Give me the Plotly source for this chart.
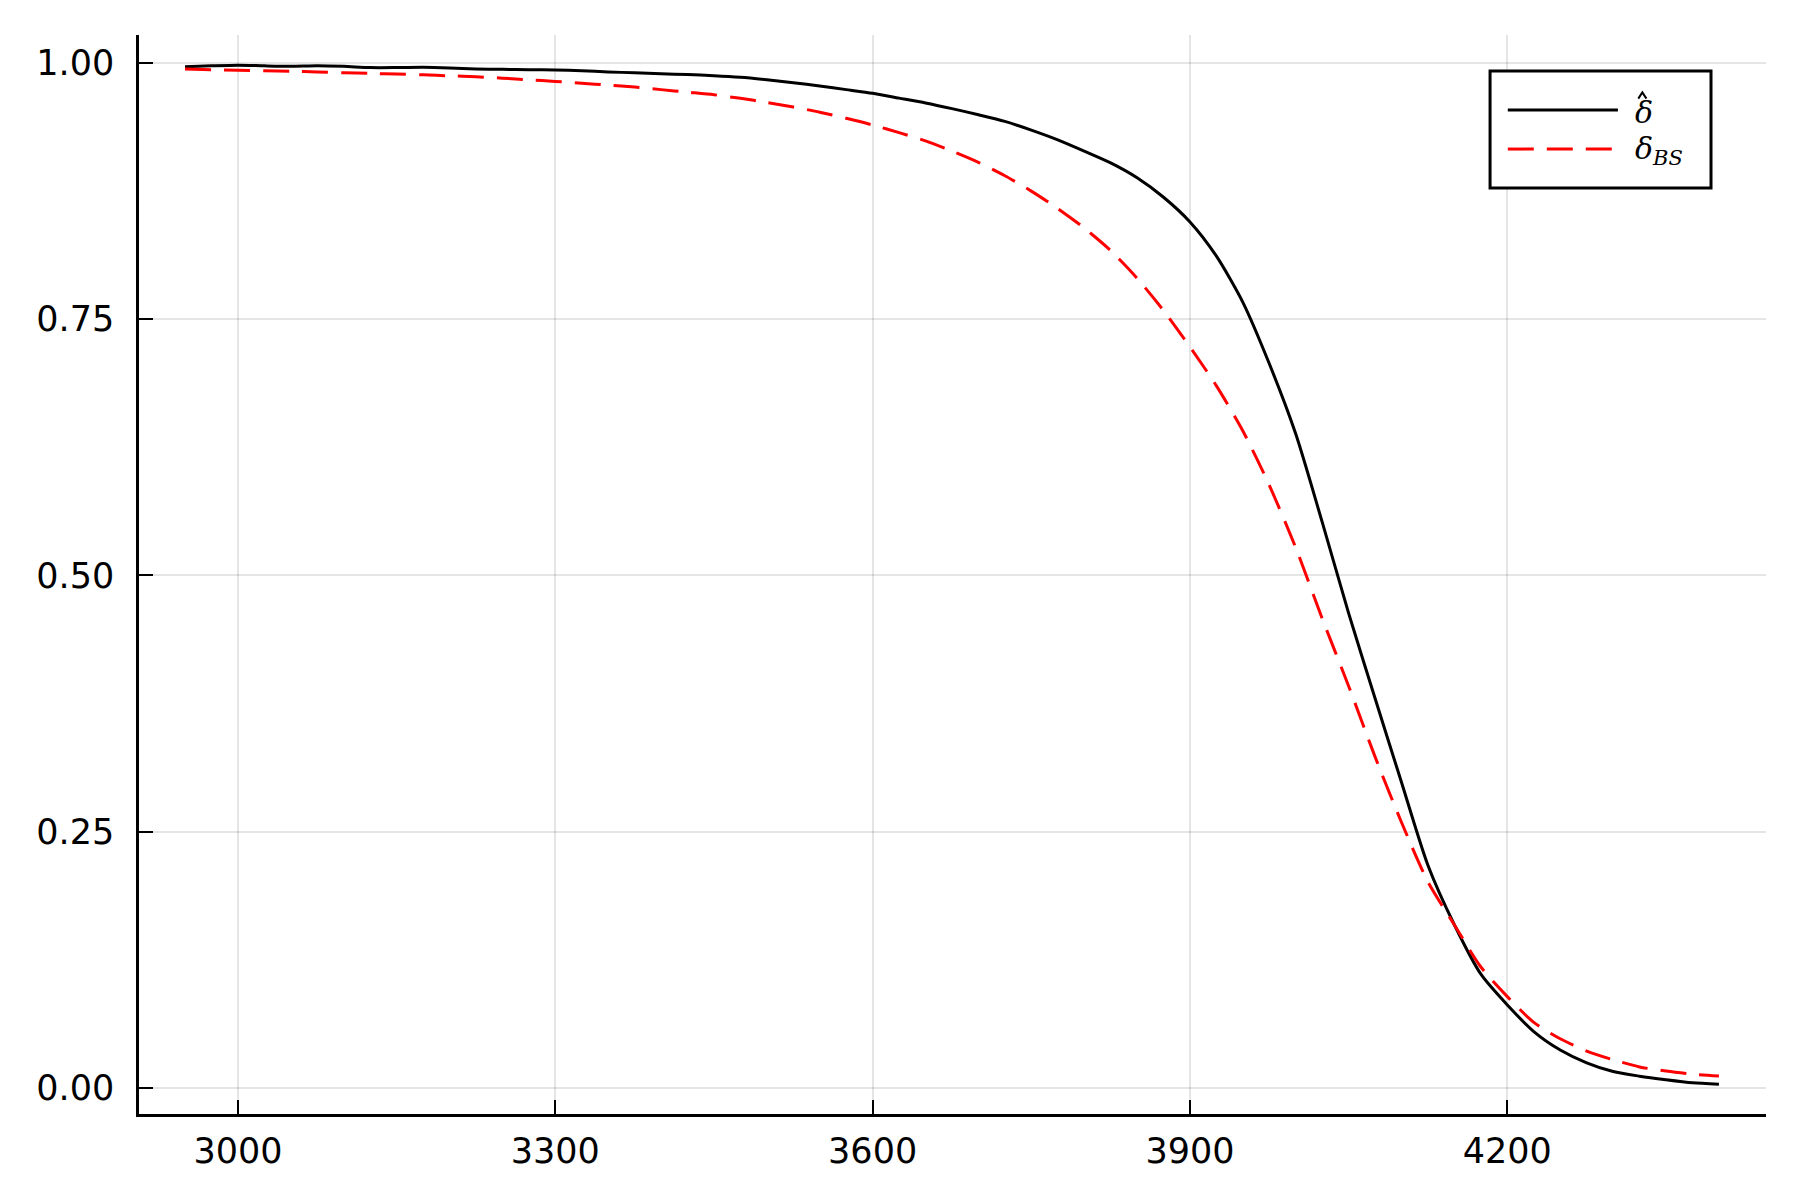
import plotly.graph_objects as go

# strike grid shared by both curves
strikes = [
    2950, 2975, 3000, 3025, 3050, 3075, 3100, 3125, 3150, 3175,
    3200, 3225, 3250, 3275, 3300, 3325, 3350, 3375, 3400, 3425,
    3450, 3475, 3500, 3525, 3550, 3575, 3600, 3625, 3650, 3675,
    3700, 3725, 3750, 3775, 3800, 3825, 3850, 3875, 3900, 3925,
    3950, 3975, 4000, 4025, 4050, 4075, 4100, 4125, 4150, 4175,
    4200, 4225, 4250, 4275, 4300, 4325, 4350, 4375, 4400,
]

# estimated delta (solid black)
delta_hat = [
    0.9964, 0.9972, 0.9978, 0.9972, 0.9968, 0.9973, 0.9967, 0.9955, 0.9955, 0.9958,
    0.9952, 0.9942, 0.9938, 0.9935, 0.9932, 0.9925, 0.9912, 0.9905, 0.9895, 0.9887,
    0.9876, 0.9860, 0.9836, 0.9808, 0.9775, 0.9740, 0.9704, 0.9657, 0.9610, 0.9555,
    0.9495, 0.9430, 0.9345, 0.9250, 0.9140, 0.9025, 0.8880, 0.8690, 0.8449, 0.8115,
    0.7665, 0.7065, 0.6380, 0.5520, 0.4630, 0.3800, 0.2980, 0.2170, 0.1590, 0.1110,
    0.0810, 0.0550, 0.0370, 0.0245, 0.0160, 0.0115, 0.0080, 0.0050, 0.0036,
]

# Black-Scholes delta (dashed red)
delta_bs = [
    0.9941, 0.9935, 0.9930, 0.9925, 0.9920, 0.9912, 0.9905, 0.9898, 0.9892, 0.9884,
    0.9875, 0.9865, 0.9852, 0.9836, 0.9820, 0.9803, 0.9784, 0.9765, 0.9740, 0.9715,
    0.9690, 0.9655, 0.9615, 0.9570, 0.9520, 0.9460, 0.9395, 0.9320, 0.9240, 0.9140,
    0.9030, 0.8900, 0.8750, 0.8580, 0.8390, 0.8170, 0.7900, 0.7585, 0.7229, 0.6850,
    0.6410, 0.5880, 0.5270, 0.4580, 0.3920, 0.3230, 0.2590, 0.2010, 0.1590, 0.1180,
    0.0891, 0.0640, 0.0480, 0.0360, 0.0275, 0.0205, 0.0165, 0.0135, 0.0117,
]

x_ticks = [3000, 3300, 3600, 3900, 4200]
y_ticks = [0.0, 0.25, 0.5, 0.75, 1.0]

DASH = "26px,13px"

fig = go.Figure()
fig.add_trace(go.Scatter(x=strikes, y=delta_hat, mode="lines",
                         line={"color": "black", "width": 3, "shape": "spline",
                               "smoothing": 0.7},
                         name="delta_hat"))
fig.add_trace(go.Scatter(x=strikes, y=delta_bs, mode="lines",
                         line={"color": "red", "width": 3, "dash": DASH,
                               "shape": "spline", "smoothing": 0.7},
                         name="delta_BS"))

axis_common = dict(
    showline=True, linecolor="black", linewidth=2.5, mirror=False,
    ticks="inside", ticklen=14, tickwidth=2, tickcolor="black",
    showgrid=True, gridcolor="rgba(0,0,0,0.1)", gridwidth=1.5,
    zeroline=False, tickfont={"family": "DejaVu Sans", "size": 35, "color": "black"},
)
fig.update_xaxes(range=[2906.5, 4444.5], tickvals=x_ticks,
                 ticktext=[str(v) for v in x_ticks], ticklabelstandoff=4, **axis_common)
fig.update_yaxes(range=[-0.0254, 1.0273], tickvals=y_ticks,
                 ticktext=[f"{v:.2f}" for v in y_ticks], ticklabelstandoff=15, **axis_common)

# hand-drawn legend box (paper coords), Plots.jl style with long line samples
fig.add_shape(type="rect", xref="paper", yref="paper", x0=0.8304, x1=0.9662,
              y0=0.8582, y1=0.9666, line={"color": "black", "width": 3},
              fillcolor="white", layer="above")
fig.add_shape(type="line", xref="paper", yref="paper", x0=0.8413, x1=0.9090,
              y0=0.9305, y1=0.9305, line={"color": "black", "width": 3}, layer="above")
fig.add_shape(type="line", xref="paper", yref="paper", x0=0.8413, x1=0.9090,
              y0=0.8943, y1=0.8943, line={"color": "red", "width": 3, "dash": DASH},
              layer="above")
legend_font = {"family": "DejaVu Serif", "size": 30, "color": "black"}
fig.add_annotation(xref="paper", yref="paper", x=0.9185, y=0.9285, xanchor="left",
                   yanchor="middle", text="<i>δ</i>", showarrow=False, font=legend_font)
# the hat over delta-hat, drawn as a small chevron
fig.add_shape(type="path", xref="paper", yref="paper",
              path="M 0.9215,0.9410 L 0.9240,0.9468 L 0.9265,0.9410",
              line={"color": "black", "width": 2}, layer="above")
fig.add_annotation(xref="paper", yref="paper", x=0.9185, y=0.8925, xanchor="left",
                   yanchor="middle", text="<i>δ</i><sub><i>BS</i></sub>",
                   showarrow=False, font=legend_font)

fig.update_layout(
    width=1800, height=1200, showlegend=False,
    plot_bgcolor="white", paper_bgcolor="white",
    # the page adds an 8px body margin, so the plot box is pulled up/left by 8px
    margin={"l": 131, "r": 42, "t": 27, "b": 94},
)
fig.write_html("out.html")
